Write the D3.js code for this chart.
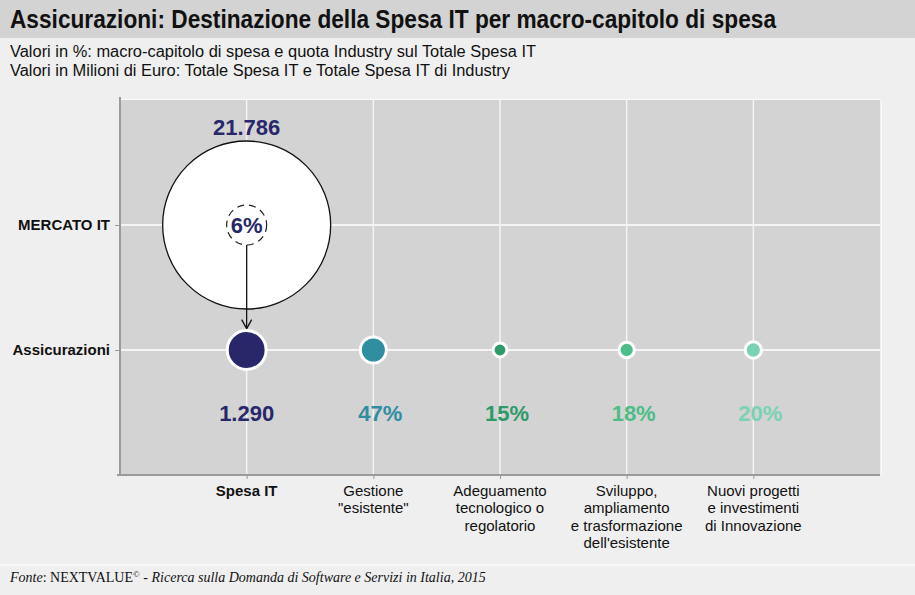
<!DOCTYPE html>
<html><head><meta charset="utf-8">
<script src="https://cdn.jsdelivr.net/npm/d3@7/dist/d3.min.js"></script>
<style>
body{margin:0;background:#efefef;}
svg{display:block;}
</style></head>
<body>
<script>
// ---- data ----
const title = "Assicurazioni: Destinazione della Spesa IT per macro-capitolo di spesa";
const subtitles = ["Valori in %: macro-capitolo di spesa e quota Industry sul Totale Spesa IT",
                   "Valori in Milioni di Euro: Totale Spesa IT e Totale Spesa IT di Industry"];
const rowLabels = ["Assicurazioni", "MERCATO IT"];
const categories = [
  ["Spesa IT"],
  ["Gestione", "\"esistente\""],
  ["Adeguamento", "tecnologico o", "regolatorio"],
  ["Sviluppo,", "ampliamento", "e trasformazione", "dell'esistente"],
  ["Nuovi progetti", "e investimenti", "di Innovazione"]
];
const marketTotal = 21786;      // Totale Spesa IT (Mercato)
const industryTotal = 1290;     // Totale Spesa IT Assicurazioni
const industryShare = 6;        // % of market
const chapterPct = [47, 15, 18, 20]; // Gestione, Adeguamento, Sviluppo, Nuovi
const colors = ["#27276a", "#2f8ea0", "#2c9b69", "#4dbd88", "#7bd2b2"];

// ---- layout ----
const SANS = "'Liberation Sans', Arial, sans-serif";
const W = 915, H = 595;
const svg = d3.select("body").append("svg").attr("width", W).attr("height", H)
  .style("font-family", SANS);
svg.append("rect").attr("width", W).attr("height", H).attr("fill", "#efefef");
svg.append("rect").attr("width", W).attr("height", 38).attr("fill", "#d3d3d3");
svg.append("text").attr("x", 10).attr("y", 28).attr("font-size", 26).attr("font-weight", "bold")
  .attr("fill", "#111").attr("textLength", 766).attr("lengthAdjust", "spacingAndGlyphs").text(title);
svg.selectAll("text.sub").data(subtitles).join("text").attr("class", "sub")
  .attr("x", 10).attr("y", (d, i) => 57 + i * 19).attr("font-size", 16).attr("fill", "#111")
  .attr("textLength", (d, i) => i === 0 ? 526 : 500).attr("lengthAdjust", "spacingAndGlyphs").text(d => d);

const x0 = 120, x1 = 880, y0 = 100, y1 = 475;
const x = d3.scaleLinear().domain([0, 6]).range([x0, x1]);
const y = d3.scaleLinear().domain([0, 3]).range([y1, y0]);
const r = d3.scaleSqrt().domain([0, marketTotal]).range([0, 84]);
const fmt = d3.formatLocale({decimal: ",", thousands: ".", grouping: [3], currency: ["", "€"]}).format(",d");

svg.append("rect").attr("x", x0).attr("y", y0).attr("width", x1 - x0).attr("height", y1 - y0).attr("fill", "#d3d3d3");
svg.append("line").attr("x1", x0).attr("x2", x1 + 1).attr("y1", y0 - 0.5).attr("y2", y0 - 0.5).attr("stroke", "#fafafa");
svg.append("line").attr("x1", x1 + 1.5).attr("x2", x1 + 1.5).attr("y1", y0).attr("y2", y1).attr("stroke", "#fafafa");

// gridlines
const g = svg.append("g");
g.selectAll("line.v").data(d3.range(1, 6)).join("line")
  .attr("x1", d => x(d)).attr("x2", d => x(d)).attr("y1", y0).attr("y2", y1)
  .attr("stroke", "#f4f4f4").attr("stroke-width", 1.5);
g.selectAll("line.h").data([1, 2]).join("line")
  .attr("x1", x0).attr("x2", x1).attr("y1", d => y(d)).attr("y2", d => y(d))
  .attr("stroke", "#f4f4f4").attr("stroke-width", 2);

// axes
const xAxis = svg.append("g").attr("transform", `translate(0,${y1})`)
  .call(d3.axisBottom(x).tickValues(d3.range(1, 6)).tickSize(4).tickFormat(""));
xAxis.select(".domain").attr("stroke", "#9a9a9a").attr("stroke-width", 2).attr("d", `M${x0 - 3},0H${x1}`);
xAxis.selectAll(".tick line").attr("stroke", "#9a9a9a");
const yAxis = svg.append("g").attr("transform", `translate(${x0},0)`)
  .call(d3.axisLeft(y).tickValues([1, 2]).tickSize(5).tickFormat((d) => rowLabels[d - 1]));
yAxis.attr("font-family", null);
yAxis.select(".domain").attr("stroke", "#9a9a9a").attr("stroke-width", 2).attr("d", `M0,${y0 - 3}V${y1}`);
yAxis.selectAll(".tick line").attr("stroke", "#9a9a9a");
yAxis.selectAll(".tick text").attr("x", -10).attr("font-size", 15).attr("font-weight", "bold")
  .attr("fill", "#111").style("font-family", SANS);

// category labels
const cl = svg.selectAll("text.cat").data(categories).join("text").attr("class", "cat")
  .attr("x", (d, i) => x(i + 1)).attr("y", 496).attr("text-anchor", "middle")
  .attr("font-size", 15).attr("fill", "#111").attr("font-weight", (d, i) => i === 0 ? "bold" : "normal");
cl.selectAll("tspan").data(d => d).join("tspan").attr("x", function () { return this.parentNode.getAttribute("x"); })
  .attr("dy", (d, i) => i === 0 ? 0 : 17.3).text(d => d);

// market bubble
const mx = x(1), my = y(2);
svg.append("circle").attr("cx", mx).attr("cy", my).attr("r", r(marketTotal))
  .attr("fill", "#fff").attr("stroke", "#111").attr("stroke-width", 1.3);
svg.append("text").attr("x", mx).attr("y", y0 + 35).attr("text-anchor", "middle")
  .attr("font-size", 22).attr("font-weight", "bold").attr("fill", colors[0]).text(fmt(marketTotal));
svg.append("circle").attr("cx", mx).attr("cy", my).attr("r", 20)
  .attr("fill", "#fff").attr("stroke", "#222").attr("stroke-width", 1.2).attr("stroke-dasharray", "7,5");
svg.append("text").attr("x", mx).attr("y", my + 8).attr("text-anchor", "middle")
  .attr("font-size", 22).attr("font-weight", "bold").attr("fill", colors[0]).text(industryShare + "%");

// arrow
const ay1 = my + 20, ay2 = y(1) - r(industryTotal) - 1;
svg.append("line").attr("x1", mx).attr("x2", mx).attr("y1", ay1).attr("y2", ay2).attr("stroke", "#111").attr("stroke-width", 1.3);
svg.append("path").attr("d", `M${mx - 5},${ay2 - 9}L${mx},${ay2}L${mx + 5},${ay2 - 9}`)
  .attr("fill", "none").attr("stroke", "#111").attr("stroke-width", 1.3);

// industry bubbles
const bubbles = [industryTotal].concat(chapterPct.map(p => industryTotal * p / 100));
svg.selectAll("circle.b").data(bubbles).join("circle").attr("class", "b")
  .attr("cx", (d, i) => x(i + 1)).attr("cy", y(1)).attr("r", d => r(d) - 1)
  .attr("fill", (d, i) => colors[i]).attr("stroke", "#fff").attr("stroke-width", 3);

const valLabels = [fmt(industryTotal)].concat(chapterPct.map(p => p + "%"));
svg.selectAll("text.v").data(valLabels).join("text").attr("class", "v")
  .attr("x", (d, i) => x(i + 1) + (i === 0 ? 0 : 7)).attr("y", 421).attr("text-anchor", "middle")
  .attr("font-size", 22).attr("font-weight", "bold").attr("fill", (d, i) => colors[i]).text(d => d);

// footer
svg.append("line").attr("x1", 0).attr("x2", W).attr("y1", 565).attr("y2", 565).attr("stroke", "#fbfbfb").attr("stroke-width", 1.5);
const ft = svg.append("text").attr("x", 10).attr("y", 582).attr("font-size", 14)
  .style("font-family", "'Liberation Serif', 'Times New Roman', serif").attr("fill", "#111");
ft.append("tspan").attr("font-style", "italic").text("Fonte");
ft.append("tspan").text(": NEXTVALUE");
ft.append("tspan").attr("font-size", 9).attr("dy", -5).text("©");
ft.append("tspan").attr("dy", 5).attr("font-style", "italic").text(" - Ricerca sulla Domanda di Software e Servizi in Italia, 2015");
</script>
</body></html>
